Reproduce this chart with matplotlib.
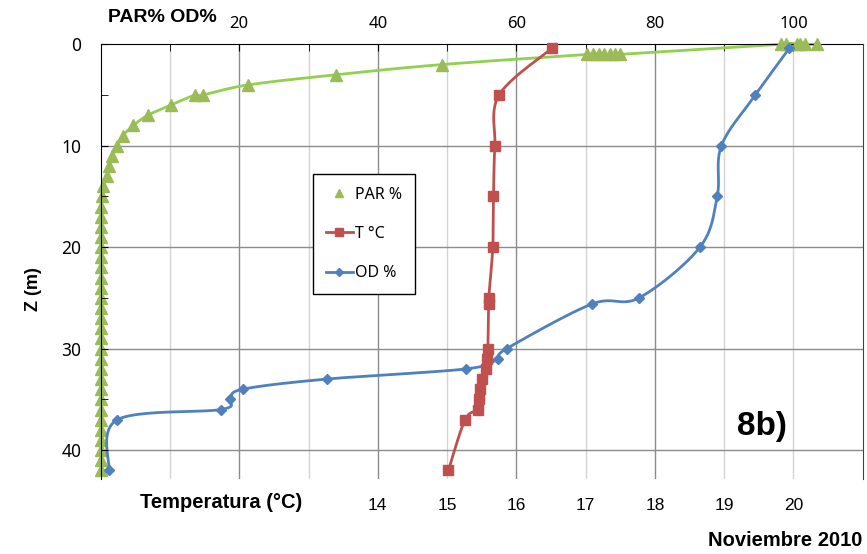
import numpy as np
import matplotlib
matplotlib.use("Agg")
import matplotlib.pyplot as plt
from matplotlib.lines import Line2D
from matplotlib import font_manager as fm

names = {f.name for f in fm.fontManager.ttflist}
NARROW = "Liberation Sans Narrow" if "Liberation Sans Narrow" in names else "Liberation Sans"
SANS = "Liberation Sans"
TICKF = "Noto Sans"

# ---------------- data ----------------
par_z = [0, 0, 0, 0, 0, 0,
         1, 1, 1, 1, 1, 1, 1,
         2, 3, 4, 5, 5, 6, 7, 8, 9, 10, 11, 12, 13,
         14, 15, 16, 17, 18, 19, 20, 21, 22, 23, 24, 25, 26, 27, 28,
         29, 30, 31, 32, 33, 34, 35, 36, 37, 38, 39, 40, 41, 42]
par_v = [103.4, 101.6, 101.0, 100.5, 98.9, 98.2,
         75.0, 74.2, 73.5, 72.7, 71.9, 71.1, 70.2,
         49.2, 34.0, 21.3, 14.7, 13.6, 10.1, 6.8, 4.7, 3.2, 2.3, 1.7, 1.25, 0.87,
         0.3, 0.15, 0.1, 0.1, 0.1, 0.1, 0.1, 0.1, 0.1, 0.1, 0.1, 0.1, 0.1, 0.1, 0.1,
         0.1, 0.1, 0.1, 0.1, 0.1, 0.1, 0.1, 0.1, 0.1, 0.1, 0.1, 0.1, 0.1, 0.1]

t_z = [0.4, 5, 10, 15, 20, 25, 25.6, 30, 31, 32, 33, 34, 35, 36, 37, 42]
t_v = [16.51, 15.75, 15.69, 15.67, 15.66, 15.60, 15.60, 15.59, 15.58, 15.56,
       15.51, 15.48, 15.46, 15.45, 15.26, 15.02]

od_z = [0.4, 5, 10, 15, 20, 25, 25.6, 30, 31, 32, 33, 34, 35, 36, 37, 42]
od_v = [99.4, 94.5, 89.6, 89.0, 86.5, 77.7, 70.9, 58.6, 57.3, 52.7,
        32.6, 20.5, 18.7, 17.4, 2.4, 1.2]

top_ticks = [20, 40, 60, 80, 100]
bottom_ticks = [14, 15, 16, 17, 18, 19, 20]
left_ticks = [0, 10, 20, 30, 40]

C_PAR_M = "#9BBB59"
C_PAR_L = "#92D050"
C_T = "#C0504D"
C_OD = "#4F81BD"

W, H = 867, 554
fig = plt.figure(figsize=(W / 100, H / 100), dpi=100)
L, R, T, B = 100.7, 862.7, 44.3, 479.0
ZMAX = 42.85
ax = fig.add_axes([L / W, 1 - B / H, (R - L) / W, (B - T) / H])
ax.set_ylim(ZMAX, 0)
ax.set_xlim(10, 21)
axt = ax.twiny()
axt.set_xlim(0, 110)
axt.set_ylim(ZMAX, 0)


def smooth(xs, ys, xr, yr):
    """Excel-like Bezier smoothing computed in pixel space."""
    sx = (R - L) / (xr[1] - xr[0])
    sy = (B - T) / (yr[1] - yr[0])
    P = np.column_stack([np.asarray(xs, float) * sx, np.asarray(ys, float) * sy])
    n = len(P)
    out = []
    tt = np.linspace(0, 1, 25)
    for i in range(n - 1):
        p0 = P[i - 1] if i > 0 else P[i]
        p1, p2 = P[i], P[i + 1]
        p3 = P[i + 2] if i + 2 < n else P[i + 1]
        c1 = p1 + (p2 - p0) / 6.0
        c2 = p2 - (p3 - p1) / 6.0
        seg = (((1 - tt) ** 3)[:, None] * p1 + (3 * (1 - tt) ** 2 * tt)[:, None] * c1
               + (3 * (1 - tt) * tt ** 2)[:, None] * c2 + (tt ** 3)[:, None] * p2)
        out.append(seg if i == 0 else seg[1:])
    S = np.vstack(out)
    return S[:, 0] / sx, S[:, 1] / sy


# gridlines
for v in range(10, 110, 10):
    col = "#8C8C8C" if v in (20, 40, 60, 80) else "#D4D4D4"
    axt.axvline(v, color=col, lw=1.0, zorder=0.5)
for z in (10, 20, 30, 40):
    axt.axhline(z, color="#8C8C8C", lw=1.0, zorder=0.6)

# series
xs, ys = smooth(par_v, par_z, (0, 110), (0, ZMAX))
axt.plot(xs, ys, color=C_PAR_L, lw=2.0, zorder=2, clip_on=False)
axt.plot(par_v, par_z, ls="none", marker="^", ms=8, color=C_PAR_M, mec=C_PAR_M,
         zorder=3, clip_on=False)

xs, ys = smooth(od_v, od_z, (0, 110), (0, ZMAX))
axt.plot(xs, ys, color=C_OD, lw=2.0, zorder=4, clip_on=False)
axt.plot(od_v, od_z, ls="none", marker="D", ms=5, color=C_OD, zorder=5, clip_on=False)

xs, ys = smooth(t_v, t_z, (10, 21), (0, ZMAX))
ax.plot(xs, ys, color=C_T, lw=2.0, zorder=6, clip_on=False)
ax.plot(t_v, t_z, ls="none", marker="s", ms=7, color=C_T, zorder=7, clip_on=False)
ax.set_zorder(axt.get_zorder() + 1)
ax.patch.set_visible(False)

# axes styling
for a in (ax, axt):
    for s in a.spines.values():
        s.set_visible(False)
axt.spines["top"].set_visible(True)
axt.spines["top"].set_color("black")
ax.spines["left"].set_visible(True)
ax.spines["left"].set_color("black")
ax.spines["right"].set_visible(True)
ax.spines["right"].set_color("#404040")

axt.set_xticks(np.arange(0, 111, 10), minor=True)
axt.set_xticks(top_ticks)
axt.set_xticklabels([str(v) for v in top_ticks], fontfamily=TICKF, fontsize=12)
axt.tick_params(axis="x", which="both", direction="in", length=5, color="black", pad=9)

ax.set_xticks(bottom_ticks)
ax.set_xticklabels([str(v) for v in bottom_ticks], fontfamily=NARROW, fontsize=12.5)
ax.tick_params(axis="x", which="both", length=0, pad=14)

ax.set_yticks(left_ticks)
ax.set_yticks(np.arange(0, 43, 5), minor=True)
ax.set_yticklabels([str(v) for v in left_ticks], fontfamily=TICKF, fontsize=12.5)
ax.tick_params(axis="y", which="both", direction="in", length=5, color="black", pad=14,
               left=True, labelleft=True, right=False, labelright=False)

# texts
fig.text(108 / W, 1 - 18 / H, "PAR% OD%", fontfamily=NARROW, fontweight="bold",
         fontsize=14, ha="left", va="center")
fig.text(140 / W, 1 - 503 / H, "Temperatura (°C)", fontfamily=NARROW, fontweight="bold",
         fontsize=14.5, ha="left", va="center")
fig.text(862 / W, 1 - 540 / H, "Noviembre 2010", fontfamily=NARROW, fontweight="bold",
         fontsize=14.5, ha="right", va="center")
fig.text(762 / W, 1 - 427 / H, "8b)", fontfamily=SANS, fontweight="bold",
         fontsize=24, ha="center", va="center")
fig.text(33 / W, 1 - 289 / H, "Z (m)", fontfamily=SANS, fontweight="bold",
         fontsize=13, ha="center", va="center", rotation=90)

# legend
handles = [
    Line2D([], [], ls="none", marker="^", ms=5.5, color=C_PAR_M),
    Line2D([], [], color=C_T, lw=2, marker="s", ms=6),
    Line2D([], [], color=C_OD, lw=2, marker="D", ms=4),
]
leg = fig.legend(handles, ["PAR %", "T °C", "OD %"], loc="upper left",
                 bbox_to_anchor=(313 / W, 1 - 174 / H), bbox_transform=fig.transFigure,
                 prop={"family": TICKF, "size": 11.5}, frameon=True, fancybox=False,
                 edgecolor="black", framealpha=1, borderpad=0.8, labelspacing=1.45,
                 handlelength=1.7, handletextpad=0.15, borderaxespad=0)
leg.get_frame().set_linewidth(1.0)
leg.set_zorder(20)

fig.savefig("out.png", dpi=100)
